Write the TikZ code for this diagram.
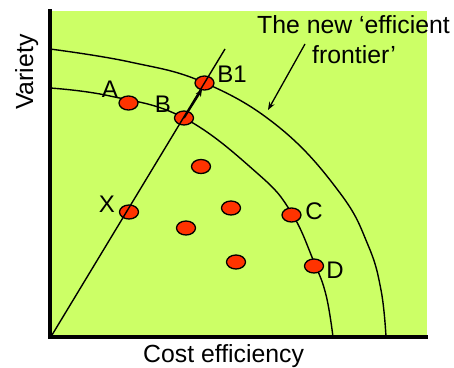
\documentclass[tikz,border=0pt]{standalone}
\usepackage{fontspec}
\setmainfont{Liberation Sans}
\usetikzlibrary{shapes.geometric,arrows.meta}
\definecolor{bggreen}{RGB}{204,255,102}
\definecolor{dotred}{RGB}{255,51,0}
\tikzset{
  dot/.style={ellipse,draw=black,line width=1.3pt,fill=dotred,minimum width=19pt,minimum height=14pt,inner sep=0pt},
  lbl/.style={anchor=base,inner sep=0pt,font=\fontsize{24}{28}\selectfont},
  txt/.style={anchor=base west,inner sep=0pt,font=\fontsize{24.8}{28}\selectfont},
  curve/.style={line width=1.4pt},
  axis/.style={line width=4pt}
}
\begin{document}
\begin{tikzpicture}[x=1pt,y=-1pt]
\useasboundingbox (0,0) rectangle (454,367);
\fill[bggreen] (50,11) rectangle (427,337);
% frontiers
\draw[curve] plot[smooth,tension=0.7] coordinates {(50,49) (130,62) (205,83) (280,128) (340,193) (368,245) (381,290) (386,337)};
\draw[curve] plot[smooth,tension=0.7] coordinates {(50,88) (110,96) (184,118) (257,173) (291,212) (314,262) (326,295) (333,337)};
% axes
\coordinate (ytop) at (49.5,9);
\coordinate (orig) at (49.5,337);
\coordinate (xend) at (428,337);
\draw[axis] (ytop) -- (orig) -- (xend);
% dots
\node[dot] (A) at (128.5,103) {};
\node[dot] (B) at (184,118) {};
\node[dot] (B1) at (204.5,83) {};
\node[dot] (X) at (129,212) {};
\node[dot] (C) at (291.5,215) {};
\node[dot] (D) at (314,266) {};
\node[dot] (p1) at (201,166.5) {};
\node[dot] (p2) at (231,208) {};
\node[dot] (p3) at (186,228) {};
\node[dot] (p4) at (236,262) {};
% ray
\coordinate (O) at (52,335);
\coordinate (T) at (225,49);
\draw[curve] (O) -- (T);
\coordinate (btip) at (202,89.5);
\draw[line width=1.8pt,-{Stealth[length=7pt,width=6pt]}] (B.center) -- (btip);
% labels
\node[lbl] (lA) at (110,97) {A};
\node[lbl] (lB) at (163,112) {B};
\node[lbl] (lB1) at (232,82) {B1};
\node[lbl] (lX) at (107,212) {X};
\node[lbl] (lC) at (314,219) {C};
\node[lbl] (lD) at (335,278) {D};
% texts
\node[txt] (t1) at (257,33) {The new ‘efficient};
\node[txt] (t2) at (312,63) {frontier’};
\node[txt] (xl) at (143,362) {Cost efficiency};
\node[txt,rotate=90] (yl) at (33,110) {Variety};
% annotation arrow
\coordinate (as) at (305,44);
\coordinate (ae) at (268,110);
\draw[line width=1.3pt,-{Stealth[length=8pt,width=6pt]}] (as) -- (ae);
\end{tikzpicture}
\end{document}
